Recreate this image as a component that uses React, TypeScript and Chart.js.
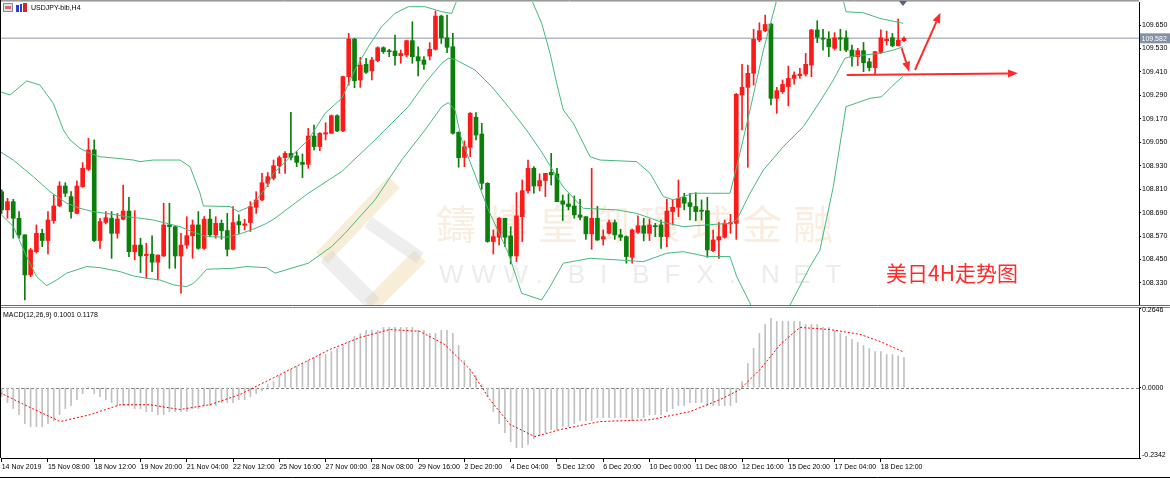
import React, { useEffect, useRef } from "react";
import { Chart, registerables } from "chart.js";

Chart.register(...registerables);

// ---------------- data ----------------
const symbolTitle = "USDJPY-bib,H4";
const xTickLabels = [
  "14 Nov 2019", "15 Nov 08:00", "18 Nov 12:00", "19 Nov 20:00", "21 Nov 04:00",
  "22 Nov 12:00", "25 Nov 16:00", "27 Nov 00:00", "28 Nov 08:00", "29 Nov 16:00",
  "2 Dec 20:00", "4 Dec 04:00", "5 Dec 12:00", "6 Dec 20:00", "10 Dec 00:00",
  "11 Dec 08:00", "12 Dec 16:00", "15 Dec 20:00", "17 Dec 04:00", "18 Dec 12:00",
];
const barsPerLabel = 8;
const priceTicks = [109.65, 109.53, 109.41, 109.29, 109.17, 109.05, 108.93, 108.81, 108.69, 108.57, 108.45, 108.33];
const priceMin = 108.217;
const priceMax = 109.768;
const currentPrice = 109.582;
const macdMin = -0.2342;
const macdMax = 0.2646;
const macdTicks = [0.2646, 0, -0.2342];
const barMin = -0.12;
const barMax = 196.63;

const opens = [
  108.797, 108.704, 108.746, 108.661, 108.576, 108.371, 108.490, 108.584, 108.547, 108.649,
  108.724, 108.826, 108.772, 108.686, 108.823, 108.912, 109.011, 108.547, 108.640, 108.661,
  108.584, 108.656, 108.698, 108.490, 108.524, 108.470, 108.477, 108.436, 108.468, 108.627,
  108.618, 108.468, 108.524, 108.571, 108.627, 108.507, 108.657, 108.576, 108.635, 108.598,
  108.502, 108.644, 108.625, 108.639, 108.717, 108.755, 108.840, 108.866, 108.930, 108.971,
  108.993, 108.980, 108.947, 108.937, 109.082, 109.028, 109.092, 109.096, 109.186, 109.108,
  109.386, 109.578, 109.369, 109.449, 109.415, 109.468, 109.534, 109.517, 109.517, 109.493,
  109.497, 109.570, 109.488, 109.471, 109.491, 109.526, 109.696, 109.585, 109.539, 109.101,
  108.973, 109.024, 109.178, 109.092, 108.840, 108.542, 108.564, 108.661, 108.571, 108.468,
  108.669, 108.802, 108.917, 108.826, 108.854, 108.896, 108.888, 108.750, 108.734, 108.724,
  108.678, 108.669, 108.581, 108.661, 108.555, 108.584, 108.639, 108.576, 108.567, 108.461,
  108.589, 108.623, 108.584, 108.622, 108.627, 108.567, 108.695, 108.717, 108.767, 108.741,
  108.721, 108.700, 108.700, 108.495, 108.550, 108.564, 108.632, 108.635, 109.292, 109.331,
  109.403, 109.573, 109.621, 109.655, 109.275, 109.309, 109.335, 109.377, 109.391, 109.399,
  109.445, 109.625, 109.582, 109.578, 109.531, 109.585, 109.585, 109.522, 109.488, 109.519,
  109.462, 109.432, 109.510, 109.570, 109.585, 109.544, 109.570,
];
const highs = [
  108.806, 108.763, 108.758, 108.695, 108.576, 108.507, 108.627, 108.605, 108.695, 108.780,
  108.848, 108.843, 108.797, 108.852, 108.946, 109.070, 109.062, 108.661, 108.695, 108.695,
  108.686, 108.831, 108.768, 108.700, 108.559, 108.533, 108.571, 108.473, 108.738, 108.738,
  108.618, 108.584, 108.669, 108.652, 108.695, 108.669, 108.707, 108.669, 108.652, 108.686,
  108.721, 108.678, 108.656, 108.746, 108.797, 108.891, 108.895, 108.959, 108.980, 109.002,
  109.203, 109.002, 108.990, 109.121, 109.138, 109.099, 109.150, 109.190, 109.190, 109.389,
  109.607, 109.582, 109.485, 109.480, 109.485, 109.539, 109.539, 109.526, 109.599, 109.522,
  109.573, 109.667, 109.539, 109.488, 109.560, 109.722, 109.701, 109.701, 109.607, 109.104,
  109.057, 109.202, 109.202, 109.147, 108.843, 108.601, 108.664, 108.661, 108.618, 108.792,
  108.857, 108.959, 108.925, 108.888, 108.891, 108.993, 108.917, 108.780, 108.785, 108.775,
  108.758, 108.669, 108.917, 108.721, 108.601, 108.652, 108.652, 108.605, 108.571, 108.605,
  108.673, 108.661, 108.657, 108.635, 108.652, 108.758, 108.755, 108.857, 108.789, 108.789,
  108.792, 108.755, 108.768, 108.601, 108.639, 108.652, 108.681, 109.300, 109.449, 109.445,
  109.628, 109.662, 109.701, 109.659, 109.331, 109.369, 109.440, 109.411, 109.428, 109.505,
  109.628, 109.672, 109.628, 109.616, 109.611, 109.628, 109.621, 109.548, 109.531, 109.561,
  109.480, 109.514, 109.625, 109.619, 109.607, 109.681, 109.590,
];
const lows = [
  108.686, 108.661, 108.559, 108.559, 108.243, 108.362, 108.482, 108.516, 108.478, 108.635,
  108.721, 108.772, 108.661, 108.683, 108.819, 108.905, 108.542, 108.507, 108.632, 108.456,
  108.559, 108.652, 108.465, 108.448, 108.383, 108.354, 108.388, 108.345, 108.465, 108.405,
  108.405, 108.277, 108.507, 108.456, 108.502, 108.502, 108.567, 108.559, 108.553, 108.468,
  108.499, 108.584, 108.601, 108.593, 108.686, 108.751, 108.823, 108.857, 108.891, 108.891,
  108.959, 108.925, 108.869, 108.917, 109.011, 109.007, 109.062, 109.096, 109.104, 109.104,
  109.343, 109.329, 109.331, 109.403, 109.369, 109.462, 109.505, 109.488, 109.445, 109.454,
  109.488, 109.454, 109.389, 109.423, 109.471, 109.522, 109.556, 109.509, 109.092, 108.922,
  108.925, 108.976, 109.062, 108.809, 108.538, 108.478, 108.524, 108.516, 108.427, 108.439,
  108.542, 108.789, 108.789, 108.801, 108.772, 108.831, 108.746, 108.649, 108.704, 108.661,
  108.652, 108.553, 108.502, 108.547, 108.524, 108.581, 108.553, 108.547, 108.431, 108.431,
  108.584, 108.545, 108.547, 108.567, 108.507, 108.516, 108.627, 108.669, 108.704, 108.652,
  108.649, 108.652, 108.461, 108.490, 108.456, 108.559, 108.584, 108.553, 109.113, 108.922,
  109.343, 109.565, 109.616, 109.241, 109.198, 109.300, 109.236, 109.348, 109.377, 109.389,
  109.386, 109.560, 109.522, 109.488, 109.522, 109.519, 109.514, 109.440, 109.442, 109.411,
  109.415, 109.394, 109.505, 109.548, 109.539, 109.543, 109.565,
];
const closes = [
  108.704, 108.746, 108.661, 108.576, 108.371, 108.499, 108.584, 108.547, 108.652, 108.724,
  108.826, 108.789, 108.695, 108.826, 108.917, 109.011, 108.547, 108.644, 108.664, 108.584,
  108.657, 108.698, 108.490, 108.524, 108.468, 108.477, 108.436, 108.473, 108.627, 108.618,
  108.468, 108.524, 108.572, 108.627, 108.507, 108.656, 108.576, 108.635, 108.598, 108.502,
  108.639, 108.627, 108.632, 108.721, 108.755, 108.843, 108.874, 108.930, 108.971, 108.993,
  108.973, 108.947, 108.937, 109.082, 109.028, 109.096, 109.099, 109.186, 109.108, 109.386,
  109.578, 109.365, 109.445, 109.408, 109.471, 109.534, 109.514, 109.514, 109.493, 109.505,
  109.570, 109.488, 109.466, 109.449, 109.526, 109.696, 109.585, 109.536, 109.096, 108.971,
  109.028, 109.198, 109.087, 108.840, 108.542, 108.567, 108.661, 108.564, 108.468, 108.673,
  108.802, 108.917, 108.826, 108.854, 108.891, 108.883, 108.746, 108.733, 108.721, 108.678,
  108.666, 108.581, 108.661, 108.550, 108.567, 108.639, 108.576, 108.564, 108.465, 108.601,
  108.623, 108.584, 108.627, 108.618, 108.567, 108.698, 108.717, 108.763, 108.738, 108.721,
  108.695, 108.697, 108.499, 108.550, 108.567, 108.635, 108.639, 109.295, 109.331, 109.403,
  109.577, 109.621, 109.653, 109.275, 109.314, 109.346, 109.377, 109.394, 109.399, 109.449,
  109.625, 109.587, 109.578, 109.539, 109.585, 109.578, 109.522, 109.488, 109.519, 109.457,
  109.432, 109.514, 109.585, 109.577, 109.544, 109.573, 109.582,
];

// Bollinger bands: [bar index, price]
const bbUpper: [number, number][] = [
  [-0.29, 109.309], [1.44, 109.292], [4.32, 109.364], [6.62, 109.343], [8.93, 109.249],
  [10.66, 109.113], [11.82, 109.062], [13.54, 109.019], [15.27, 108.993], [17.0, 108.976],
  [19.88, 108.968], [22.76, 108.959], [23.91, 108.951], [26.22, 108.959], [30.83, 108.959],
  [32.56, 108.925], [34.29, 108.789], [34.87, 108.724], [39.48, 108.721], [40.92, 108.695],
  [42.93, 108.721], [44.09, 108.755], [45.82, 108.823], [46.97, 108.891], [53.01, 109.062],
  [55.9, 109.198], [58.78, 109.275], [61.08, 109.42], [63.39, 109.539], [65.69, 109.642],
  [68.0, 109.71], [70.3, 109.744], [73.19, 109.744], [76.07, 109.718], [77.8, 109.71],
  [78.95, 109.795], [81, 109.88], [84, 109.95], [88, 109.96], [90.5, 109.86],
  [91.63, 109.778], [93.36, 109.659], [94.8, 109.505], [95.95, 109.352], [97.1, 109.215],
  [98.83, 109.147], [101.72, 108.976], [103.45, 108.959], [109.79, 108.951], [112.09, 108.891],
  [114.4, 108.772], [116.13, 108.755], [119.58, 108.789], [125.92, 108.789], [127.08, 108.925],
  [129.38, 109.215], [131.69, 109.522], [134.0, 109.778], [137, 109.95], [140, 110.0],
  [143, 109.92], [145.5, 109.778], [145.97, 109.718], [148.96, 109.713], [151.84, 109.684],
  [155.88, 109.659],
];
const bbMiddle: [number, number][] = [
  [-0.29, 109.002], [2.01, 108.959], [5.47, 108.874], [8.35, 108.797], [11.23, 108.738],
  [13.54, 108.712], [15.84, 108.695], [18.73, 108.683], [21.61, 108.669], [23.91, 108.661],
  [26.22, 108.652], [28.52, 108.635], [30.83, 108.618], [33.14, 108.589], [35.44, 108.567],
  [38.9, 108.564], [41.2, 108.581], [43.51, 108.605], [45.82, 108.635], [47.25, 108.661],
  [53.01, 108.789], [58.78, 108.9], [64.54, 109.062], [70.3, 109.232], [73.19, 109.352],
  [76.07, 109.454], [77.22, 109.48], [78.37, 109.474], [81.83, 109.42], [84.71, 109.335],
  [87.6, 109.232], [91.05, 109.1], [93.36, 109.0], [94.8, 108.93], [97.1, 108.82],
  [100.56, 108.712], [106.33, 108.704], [109.79, 108.686], [113.82, 108.644], [117.85, 108.618],
  [121.89, 108.627], [125.92, 108.635], [127.08, 108.652], [129.38, 108.789], [131.69, 108.908],
  [135.15, 109.028], [138.6, 109.13], [141.47, 109.258], [143.78, 109.369], [145.8, 109.48],
  [147.2, 109.491], [151.84, 109.505], [154.15, 109.522], [155.88, 109.539],
];
const bbLower: [number, number][] = [
  [-0.29, 108.686], [2.01, 108.618], [4.32, 108.465], [6.05, 108.362], [7.78, 108.316],
  [9.5, 108.345], [11.23, 108.38], [14.69, 108.414], [17.0, 108.408], [20.46, 108.388],
  [22.76, 108.366], [25.07, 108.354], [27.37, 108.345], [29.68, 108.32], [31.98, 108.311],
  [33.14, 108.328], [34.29, 108.362], [35.44, 108.4], [40.05, 108.405], [42.36, 108.414],
  [45.82, 108.408], [47.25, 108.38], [53.01, 108.431], [57.05, 108.516], [59.35, 108.584],
  [64.54, 108.755], [69.15, 108.959], [73.19, 109.113], [76.07, 109.232], [77.22, 109.253],
  [78.37, 109.215], [79.53, 109.062], [84.14, 108.704], [87.6, 108.482], [89.9, 108.277],
  [93.36, 108.243], [94.8, 108.311], [97.1, 108.431], [101.72, 108.456], [106.33, 108.448],
  [110.94, 108.439], [114.97, 108.482], [117.85, 108.49], [121.89, 108.465], [125.92, 108.465],
  [127.08, 108.362], [129.38, 108.226], [132, 108.0], [134, 107.95], [136.3, 108.217],
  [139.76, 108.414], [141.47, 108.499], [143.78, 108.823], [145.97, 109.232], [150.12, 109.275],
  [152.13, 109.283], [153.86, 109.335], [155.88, 109.389],
];

// MACD(12,26,9): main line drawn as histogram, one value per bar
const macdMain = [
  -0.03, -0.05, -0.07, -0.09, -0.12, -0.13, -0.13, -0.13, -0.12, -0.11,
  -0.09, -0.07, -0.06, -0.04, -0.02, 0.0, -0.02, -0.03, -0.04, -0.05,
  -0.06, -0.06, -0.06, -0.07, -0.07, -0.08, -0.08, -0.09, -0.09, -0.08,
  -0.08, -0.08, -0.08, -0.07, -0.07, -0.06, -0.06, -0.06, -0.05, -0.05,
  -0.05, -0.04, -0.04, -0.03, -0.02, -0.01, 0.01, 0.02, 0.04, 0.05,
  0.06, 0.07, 0.08, 0.09, 0.1, 0.11, 0.11, 0.12, 0.13, 0.14,
  0.15, 0.17, 0.18, 0.19, 0.19, 0.19, 0.2, 0.2, 0.2, 0.2,
  0.2, 0.2, 0.19, 0.19, 0.18, 0.18, 0.19, 0.19, 0.18, 0.14,
  0.09, 0.06, 0.04, 0.01, -0.03, -0.08, -0.12, -0.15, -0.18, -0.2,
  -0.2, -0.19, -0.17, -0.16, -0.15, -0.14, -0.14, -0.13, -0.13, -0.12,
  -0.11, -0.11, -0.11, -0.1, -0.1, -0.1, -0.1, -0.1, -0.1, -0.11,
  -0.1, -0.1, -0.09, -0.09, -0.09, -0.08, -0.07, -0.06, -0.06, -0.05,
  -0.05, -0.05, -0.06, -0.06, -0.06, -0.06, -0.06, -0.05, 0.02, 0.08,
  0.13, 0.18, 0.21, 0.23, 0.22, 0.22, 0.22, 0.22, 0.22, 0.21,
  0.21, 0.21, 0.2, 0.2, 0.19, 0.18, 0.17, 0.16, 0.15, 0.14,
  0.13, 0.12, 0.12, 0.11, 0.11, 0.105, 0.1001,
];
// signal line: [bar index, value]
const macdSignal: [number, number][] = [
  [-0.3, -0.017], [4.9, -0.066], [10.1, -0.113], [15.3, -0.09], [20.5, -0.057],
  [25.6, -0.057], [30.8, -0.073], [36, -0.057], [41.2, -0.023], [46.4, 0.027],
  [51.6, 0.077], [56.8, 0.127], [62, 0.167], [67.1, 0.193], [72.3, 0.187],
  [76.6, 0.143], [81, 0.06], [84.4, -0.04], [87.9, -0.123], [92.2, -0.163],
  [96.5, -0.14], [103.4, -0.113], [112.1, -0.107], [119, -0.08], [124.2, -0.04],
  [127.6, -0.007], [131.1, 0.06], [134.6, 0.143], [138, 0.2], [143.2, 0.193],
  [148.4, 0.177], [151.9, 0.153], [156, 0.1178],
];

const annotationText = "美日4H走势图";
const watermarkCn = "鑄博皇御環球金融";
const watermarkEn = "WWW.BIBFX.NET";
// hand-drawn arrows, in [bar index, price]
const arrows: { from: [number, number]; to: [number, number] }[] = [
  { from: [146.1, 109.394], to: [175.7, 109.403] },
  { from: [155.6, 109.531], to: [156.9, 109.411] },
  { from: [157.9, 109.42], to: [162.3, 109.713] },
];

// ---------------- styling ----------------
const FONT = '"Liberation Sans", Arial, sans-serif';
const RED = "#ff1a1a";
const GREEN = "#0a7f0a";
const BAND = "#45b97c";
const MACD_TOP = 300; // page y of the MACD canvas

function drawArrow(ctx: CanvasRenderingContext2D, x1: number, y1: number, x2: number, y2: number) {
  const head = 10;
  const w = 4;
  const ang = Math.atan2(y2 - y1, x2 - x1);
  const bx = x2 - head * Math.cos(ang);
  const by = y2 - head * Math.sin(ang);
  ctx.beginPath();
  ctx.moveTo(x1, y1);
  ctx.lineTo(bx, by);
  ctx.stroke();
  ctx.beginPath();
  ctx.moveTo(x2, y2);
  ctx.lineTo(bx + w * Math.sin(ang), by - w * Math.cos(ang));
  ctx.lineTo(bx - w * Math.sin(ang), by + w * Math.cos(ang));
  ctx.closePath();
  ctx.fill();
}

const pricePlugin = {
  id: "priceDecor",
  beforeDraw(chart: any) {
    const { ctx, width, height } = chart;
    ctx.save();
    ctx.fillStyle = "#ffffff";
    ctx.fillRect(0, 0, width, height);
    ctx.restore();
  },
  beforeDatasetsDraw(chart: any) {
    const { ctx, chartArea: a, scales } = chart;
    const y = scales.y;
    ctx.save();
    // watermark logo
    ctx.lineCap = "butt";
    ctx.strokeStyle = "rgba(238, 214, 170, 0.45)";
    ctx.lineWidth = 16;
    ctx.beginPath(); ctx.moveTo(322, 258); ctx.lineTo(394, 182); ctx.stroke();
    ctx.beginPath(); ctx.moveTo(420, 256); ctx.lineTo(370, 306); ctx.stroke();
    ctx.strokeStyle = "rgba(205, 205, 205, 0.35)";
    ctx.beginPath(); ctx.moveTo(326, 256); ctx.lineTo(374, 304); ctx.stroke();
    ctx.lineWidth = 13;
    ctx.beginPath(); ctx.moveTo(368, 222); ctx.lineTo(420, 258); ctx.stroke();
    // watermark text
    ctx.fillStyle = "rgba(236, 204, 160, 0.35)";
    ctx.font = '40px "Noto Sans CJK TC"';
    ctx.textBaseline = "middle";
    ctx.textAlign = "left";
    Array.from(watermarkCn).forEach((ch, i) => ctx.fillText(ch, 436 + i * 51, 224));
    ctx.fillStyle = "rgba(200, 200, 200, 0.35)";
    ctx.font = '26px "Liberation Sans"';
    Array.from(watermarkEn).forEach((ch, i) => ctx.fillText(ch, 439 + i * 32.2, 276));
    // current price line
    const py = y.getPixelForValue(currentPrice);
    ctx.strokeStyle = "#b4bac2";
    ctx.lineWidth = 1.5;
    ctx.beginPath();
    ctx.moveTo(a.left, py);
    ctx.lineTo(a.right, py);
    ctx.stroke();
    ctx.restore();
  },
  afterDraw(chart: any) {
    const { ctx, chartArea: a, scales } = chart;
    const x = scales.x;
    const y = scales.y;
    ctx.save();
    // frame
    ctx.strokeStyle = "#9a9a9a";
    ctx.lineWidth = 1;
    ctx.beginPath(); ctx.moveTo(0, 0.5); ctx.lineTo(a.right, 0.5); ctx.stroke();
    ctx.strokeStyle = "#c4c4c4";
    ctx.beginPath(); ctx.moveTo(0, 1.5); ctx.lineTo(a.right, 1.5); ctx.stroke();
    ctx.strokeStyle = "#000";
    ctx.beginPath(); ctx.moveTo(0.5, 0); ctx.lineTo(0.5, 306); ctx.stroke();
    // shift marker
    ctx.fillStyle = "#56657c";
    ctx.beginPath(); ctx.moveTo(899, 1); ctx.lineTo(907, 1); ctx.lineTo(903, 6); ctx.closePath(); ctx.fill();
    // current price label
    const py = y.getPixelForValue(currentPrice);
    ctx.fillStyle = "#8390a6";
    ctx.fillRect(a.right + 1, py - 5, 30, 10);
    ctx.fillStyle = "#ffffff";
    ctx.font = `7px ${FONT}`;
    ctx.textBaseline = "middle";
    ctx.textAlign = "left";
    ctx.fillText(currentPrice.toFixed(3), a.right + 2.5, py + 0.5);
    // title + icons
    ctx.fillStyle = "#dfe3ee"; ctx.fillRect(3, 3, 10, 9);
    ctx.strokeStyle = "#7d8db0"; ctx.strokeRect(3.5, 3.5, 9, 8);
    ctx.fillStyle = "#e06a6a"; ctx.fillRect(5, 6, 6, 3);
    ctx.fillStyle = "#2a3fcf"; ctx.fillRect(16, 5, 3, 7); ctx.fillRect(20, 4, 2, 8);
    ctx.fillStyle = "#d62828"; ctx.fillRect(23, 3, 4, 9);
    ctx.fillStyle = "#000";
    ctx.font = `7px ${FONT}`;
    ctx.fillText(symbolTitle, 31, 8.5);
    // arrows
    ctx.strokeStyle = "#ff2a2a";
    ctx.fillStyle = "#ff2a2a";
    ctx.lineWidth = 2;
    arrows.forEach((ar) => {
      drawArrow(
        ctx,
        x.getPixelForValue(ar.from[0]), y.getPixelForValue(ar.from[1]),
        x.getPixelForValue(ar.to[0]), y.getPixelForValue(ar.to[1])
      );
    });
    // annotation text
    ctx.fillStyle = "#ff2b2b";
    ctx.font = '21px "Noto Sans CJK SC"';
    ctx.textBaseline = "alphabetic";
    ctx.fillText(annotationText, 886, 281);
    ctx.restore();
  },
};

const macdPlugin = {
  id: "macdDecor",
  beforeDraw(chart: any) {
    const { ctx, width, height } = chart;
    ctx.save();
    ctx.clearRect(0, 0, width, height);
    ctx.fillStyle = "#ffffff";
    ctx.fillRect(0, 306 - MACD_TOP, width, height);
    ctx.restore();
  },
  beforeDatasetsDraw(chart: any) {
    const { ctx, chartArea: a, scales } = chart;
    const y0 = Math.round(scales.y.getPixelForValue(0)) + 0.5;
    ctx.save();
    ctx.strokeStyle = "#808080";
    ctx.lineWidth = 1;
    ctx.setLineDash([3, 2]);
    ctx.beginPath();
    ctx.moveTo(a.left, y0);
    ctx.lineTo(a.right, y0);
    ctx.stroke();
    ctx.restore();
  },
  afterDraw(chart: any) {
    const { ctx, chartArea: a, width, height, scales } = chart;
    const off = MACD_TOP;
    ctx.save();
    // separators and borders
    ctx.strokeStyle = "#6a6a6a";
    ctx.lineWidth = 1;
    ctx.beginPath(); ctx.moveTo(0, 305.5 - off); ctx.lineTo(width, 305.5 - off); ctx.stroke();
    ctx.strokeStyle = "#8a8a8a";
    ctx.beginPath(); ctx.moveTo(0, 307.5 - off); ctx.lineTo(width, 307.5 - off); ctx.stroke();
    ctx.strokeStyle = "#000";
    ctx.beginPath(); ctx.moveTo(0.5, 305 - off); ctx.lineTo(0.5, a.bottom); ctx.stroke();
    ctx.beginPath(); ctx.moveTo(0, height - 1.5); ctx.lineTo(width, height - 1.5); ctx.stroke();
    // y labels (kept inside the panel)
    ctx.fillStyle = "#000";
    ctx.font = `7px ${FONT}`;
    ctx.textBaseline = "middle";
    ctx.textAlign = "left";
    macdTicks.forEach((v) => {
      const py = Math.min(Math.max(scales.y.getPixelForValue(v), a.top + 2.5), a.bottom - 3);
      ctx.fillText(v.toFixed(4), a.right + 3, py);
    });
    // indicator label
    const lastMain = macdMain[macdMain.length - 1];
    const lastSignal = macdSignal[macdSignal.length - 1][1];
    ctx.fillText(`MACD(12,26,9) ${lastMain.toFixed(4)} ${lastSignal.toFixed(4)}`, 3, 315 - off);
    ctx.restore();
  },
};

export default function App() {
  const priceRef = useRef<HTMLCanvasElement>(null);
  const macdRef = useRef<HTMLCanvasElement>(null);

  useEffect(() => {
    const idx = opens.map((_, i) => i);
    const bull = idx.filter((i) => closes[i] >= opens[i]);
    const bear = idx.filter((i) => closes[i] < opens[i]);
    const body = (ids: number[]) => ids.map((i) => ({ x: i, y: [opens[i], closes[i]] }));
    const wick = (ids: number[]) => ids.map((i) => ({ x: i, y: [lows[i], highs[i]] }));
    const pts = (arr: [number, number][]) => arr.map(([x, y]) => ({ x, y }));
    const tickFont = { family: FONT, size: 7 };

    const bandDs = (arr: [number, number][]) => ({
      type: "line" as const,
      data: pts(arr),
      borderColor: BAND,
      borderWidth: 1,
      pointRadius: 0,
      tension: 0,
      fill: false,
    });
    const barDs = (data: any[], color: string, thickness: number) => ({
      type: "bar" as const,
      data,
      backgroundColor: color,
      barThickness: thickness,
      minBarLength: 1,
      grouped: false,
      borderWidth: 0,
    });

    const priceChart = new Chart(priceRef.current as HTMLCanvasElement, {
      type: "bar",
      data: {
        datasets: [
          bandDs(bbUpper),
          bandDs(bbMiddle),
          bandDs(bbLower),
          barDs(body(bull), RED, 4),
          barDs(body(bear), GREEN, 4),
          barDs(wick(bull), RED, 1),
          barDs(wick(bear), GREEN, 1),
        ] as any,
      },
      options: {
        responsive: false,
        animation: false,
        devicePixelRatio: 1,
        events: [],
        layout: { padding: { left: 1, top: 2, right: 0, bottom: 1 } },
        plugins: { legend: { display: false }, tooltip: { enabled: false } },
        scales: {
          x: {
            type: "linear",
            min: barMin,
            max: barMax,
            display: false,
            offset: false,
            grid: { offset: false },
          },
          y: {
            type: "linear",
            position: "right",
            min: priceMin,
            max: priceMax,
            afterBuildTicks: (s: any) => {
              s.ticks = priceTicks.map((value) => ({ value }));
            },
            afterFit: (s: any) => {
              s.width = 31;
              s.paddingTop = 0;
              s.paddingBottom = 0;
            },
            ticks: {
              callback: (v: any) => Number(v).toFixed(3),
              font: tickFont,
              color: "#000",
              padding: 1,
              autoSkip: false,
            },
            grid: { drawOnChartArea: false, drawTicks: true, tickLength: 2, color: "#000" },
            border: { display: true, color: "#000" },
          },
        },
      } as any,
      plugins: [pricePlugin],
    });

    const macdChart = new Chart(macdRef.current as HTMLCanvasElement, {
      type: "bar",
      data: {
        datasets: [
          {
            type: "line",
            data: pts(macdSignal),
            borderColor: "#ff0000",
            borderWidth: 1,
            borderDash: [2, 2],
            pointRadius: 0,
            tension: 0,
            fill: false,
          },
          {
            type: "bar",
            data: macdMain.map((v, i) => ({ x: i, y: v })),
            backgroundColor: "#c0c0c0",
            barThickness: 1,
            grouped: false,
            borderWidth: 0,
          },
        ] as any,
      },
      options: {
        responsive: false,
        animation: false,
        devicePixelRatio: 1,
        events: [],
        layout: { padding: { left: 1, top: 308 - MACD_TOP, right: 0, bottom: 0 } },
        plugins: { legend: { display: false }, tooltip: { enabled: false } },
        scales: {
          x: {
            type: "linear",
            position: "bottom",
            min: barMin,
            max: barMax,
            offset: false,
            afterBuildTicks: (s: any) => {
              s.ticks = xTickLabels.map((_, i) => ({ value: i * barsPerLabel }));
            },
            afterFit: (s: any) => {
              s.height = 21;
              s.paddingLeft = 0;
              s.paddingRight = 0;
            },
            ticks: {
              callback: (v: any) => xTickLabels[Math.round(Number(v) / barsPerLabel)],
              align: "start",
              maxRotation: 0,
              minRotation: 0,
              autoSkip: false,
              font: tickFont,
              color: "#000",
              padding: 1,
            },
            grid: { drawOnChartArea: false, drawTicks: true, tickLength: 4, color: "#000", offset: false },
            border: { display: true, color: "#000" },
          },
          y: {
            type: "linear",
            position: "right",
            min: macdMin,
            max: macdMax,
            afterBuildTicks: (s: any) => {
              s.ticks = macdTicks.map((value) => ({ value }));
            },
            afterFit: (s: any) => {
              s.width = 31;
              s.paddingTop = 0;
              s.paddingBottom = 0;
            },
            ticks: { display: false },
            grid: { drawOnChartArea: false, drawTicks: true, tickLength: 2, color: "#000" },
            border: { display: true, color: "#000" },
          },
        },
      } as any,
      plugins: [macdPlugin],
    });

    return () => {
      priceChart.destroy();
      macdChart.destroy();
    };
  }, []);

  return (
    <div
      style={{
        position: "fixed",
        left: 0,
        top: 0,
        width: 1170,
        height: 479,
        background: "#ffffff",
        overflow: "hidden",
      }}
    >
      <canvas
        ref={priceRef}
        width={1170}
        height={306}
        style={{ position: "absolute", left: 0, top: 0, width: 1170, height: 306 }}
      />
      <canvas
        ref={macdRef}
        width={1170}
        height={479 - MACD_TOP}
        style={{ position: "absolute", left: 0, top: MACD_TOP, width: 1170, height: 479 - MACD_TOP }}
      />
    </div>
  );
}
